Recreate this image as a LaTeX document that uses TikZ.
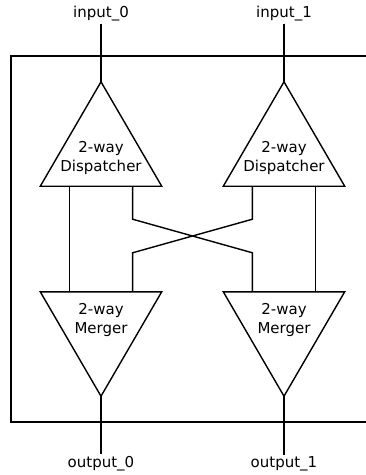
\documentclass[tikz,border=0pt]{standalone}
\usepackage{fontspec}
\setmainfont{DejaVu Sans}
\usetikzlibrary{calc}

\begin{document}
\begin{tikzpicture}[
    x=1pt, y=-1pt,
    wire/.style={line width=1.4pt},
    txt/.style={font=\fontsize{15}{19}\selectfont, align=center, inner sep=2pt},
    tribox/.style={minimum width=121pt, minimum height=104pt, inner sep=0pt}
]
\useasboundingbox (0,0) rectangle (366,475);

% outer box, open on the right
\draw[wire] (366,56) -- (11,56) -- (11,422) -- (366,422);

\foreach \x [count=\i from 0] in {101, 284} {
    \node[txt] (in\i) at (\x, 14) {input\_\i};
    \node[tribox] (disp\i) at (\x, 134) {};
    \node[txt] (dtext\i) at (\x, 157.5) {2-way\\Dispatcher};
    \node[tribox] (merge\i) at (\x, 344) {};
    \node[txt] (mtext\i) at (\x, 320) {2-way\\Merger};
    \node[txt] (out\i) at (\x, 464) {output\_\i};

    \draw[wire] (disp\i.north) -- (disp\i.south east) -- (disp\i.south west) -- cycle;
    \draw[wire] (merge\i.north west) -- (merge\i.north east) -- (merge\i.south) -- cycle;
    \draw[wire] (in\i.south) -- (disp\i.north);
    \draw[wire] (merge\i.south) -- (out\i.north);
}

% straight wires
\draw[wire] ($(disp0.south west)!0.24!(disp0.south east)$) -- ($(merge0.north west)!0.24!(merge0.north east)$);
\draw[wire] ($(disp1.south west)!0.76!(disp1.south east)$) -- ($(merge1.north west)!0.76!(merge1.north east)$);

% crossing wires
\draw[wire] ($(disp0.south west)!0.76!(disp0.south east)$) -- ++(0,33)
    -- ($(merge1.north west)!0.24!(merge1.north east) + (0,-39)$)
    -- ($(merge1.north west)!0.24!(merge1.north east)$);
\draw[wire] ($(disp1.south west)!0.24!(disp1.south east)$) -- ++(0,33)
    -- ($(merge0.north west)!0.76!(merge0.north east) + (0,-39)$)
    -- ($(merge0.north west)!0.76!(merge0.north east)$);

\end{tikzpicture}
\end{document}
